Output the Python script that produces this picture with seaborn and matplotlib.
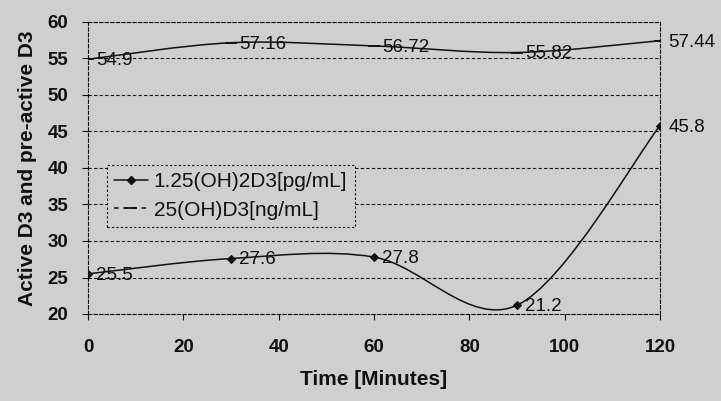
import numpy as np
import pandas as pd
import seaborn as sns
import matplotlib
matplotlib.use("Agg")
import matplotlib.pyplot as plt
from matplotlib.path import Path
from matplotlib.patches import PathPatch
from matplotlib.lines import Line2D

# Sampling times and measured concentrations
time_min = [0, 30, 60, 90, 120]
active_d3 = [25.5, 27.6, 27.8, 21.2, 45.8]        # 1.25(OH)2D3 [pg/mL]
preactive_d3 = [54.9, 57.16, 56.72, 55.82, 57.44]  # 25(OH)D3 [ng/mL]
active_label = "1.25(OH)2D3[pg/mL]"
preactive_label = "25(OH)D3[ng/mL]"
x_ticks = [0, 20, 40, 60, 80, 100, 120]
y_ticks = [20, 25, 30, 35, 40, 45, 50, 55, 60]

BG = "#cfcfcf"
INK = "#111111"

sns.set_theme(style="white")
plt.rcParams["font.family"] = ["Liberation Sans", "DejaVu Sans"]


def smooth_path(xs, ys):
    """Cardinal-spline (Catmull-Rom) curve through the points as cubic Beziers."""
    pts = np.column_stack([xs, ys]).astype(float)
    n = len(pts)
    verts = [tuple(pts[0])]
    codes = [Path.MOVETO]
    for i in range(n - 1):
        p0 = pts[max(i - 1, 0)]
        p1 = pts[i]
        p2 = pts[i + 1]
        p3 = pts[min(i + 2, n - 1)]
        c1 = p1 + (p2 - p0) / 6.0
        c2 = p2 - (p3 - p1) / 6.0
        verts += [tuple(c1), tuple(c2), tuple(p2)]
        codes += [Path.CURVE4] * 3
    return Path(verts, codes)


fig = plt.figure(figsize=(7.21, 4.01), dpi=100, facecolor=BG)
ax = fig.add_axes([88 / 721, 1 - 314 / 401, 572 / 721, 292 / 401])
ax.set_facecolor(BG)

df = pd.DataFrame({"time": time_min, "active": active_d3, "pre": preactive_d3})

# smooth connecting curves
for col in ["active", "pre"]:
    ax.add_patch(PathPatch(smooth_path(df["time"], df[col]), fill=False,
                           edgecolor=INK, lw=1.1, zorder=3))

# point markers
sns.lineplot(data=df, x="time", y="active", ax=ax, linestyle="", marker="D",
             markersize=4, color=INK, markeredgecolor=INK, zorder=4)
sns.lineplot(data=df, x="time", y="pre", ax=ax, linestyle="", marker="_",
             markersize=9, color=INK, markeredgecolor=INK,
             markeredgewidth=1.3, zorder=4)

# value labels
for series in ["active", "pre"]:
    for x, y in zip(df["time"], df[series]):
        ax.annotate(f"{y:g}", (x, y), xytext=(6, -1), textcoords="offset points",
                    ha="left", va="center", fontsize=13.5, color=INK, zorder=5,
                    annotation_clip=False)

ax.set_xlim(0, 120)
ax.set_ylim(20, 60)
ax.set_xticks(x_ticks)
ax.set_yticks(y_ticks)
ax.set_xticklabels([str(t) for t in x_ticks], fontsize=13.5, fontweight="bold")
ax.set_yticklabels([str(t) for t in y_ticks], fontsize=13.5, fontweight="bold")
ax.tick_params(axis="both", direction="out", length=4, width=0.8, color=INK,
               bottom=True, left=True, labelcolor=INK)
ax.tick_params(axis="x", pad=14)
ax.tick_params(axis="y", pad=10)

ax.yaxis.grid(True, color=INK, linestyle=(0, (3, 2)), linewidth=0.8)
ax.xaxis.grid(False)
for side in ["left", "right", "top", "bottom"]:
    ax.spines[side].set_visible(True)
    ax.spines[side].set_color(INK)
    ax.spines[side].set_linewidth(0.8)
    ax.spines[side].set_linestyle((0, (3, 2)))

ax.set_xlabel("Time [Minutes]", fontsize=15, fontweight="bold", color=INK, labelpad=10)
ax.set_ylabel("Active D3 and pre-active D3", fontsize=15, fontweight="bold",
              color=INK, labelpad=8)

handles = [
    Line2D([], [], color=INK, lw=1.1, marker="D", markersize=4),
    Line2D([], [], color=INK, lw=1.1, linestyle=(0, (3, 3)), marker="_",
           markersize=9, markeredgewidth=1.3),
]
leg = ax.legend(handles, [active_label, preactive_label], loc="upper left",
                bbox_to_anchor=(0.033, 0.51), borderaxespad=0, fontsize=15,
                frameon=True, fancybox=False, handlelength=1.6,
                handletextpad=0.3, borderpad=0.35, labelspacing=0.45)
frame = leg.get_frame()
frame.set_facecolor(BG)
frame.set_edgecolor(INK)
frame.set_linewidth(0.8)
frame.set_linestyle((0, (2, 2)))
frame.set_alpha(1)
for t in leg.get_texts():
    t.set_color(INK)

fig.savefig("out.png", dpi=100, facecolor=BG)
